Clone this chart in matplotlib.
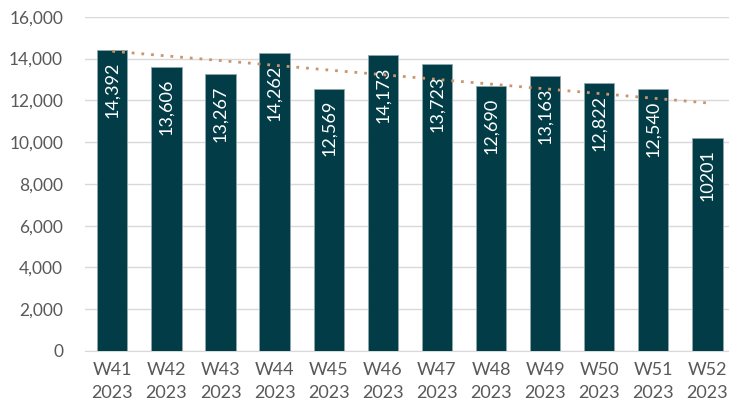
import numpy as np
import matplotlib.pyplot as plt

# weekly values
weeks = ["W41", "W42", "W43", "W44", "W45", "W46", "W47", "W48", "W49", "W50", "W51", "W52"]
years = ["2023"] * 12
values = [14392, 13606, 13267, 14262, 12569, 14173, 13723, 12690, 13163, 12822, 12540, 10201]
value_labels = ["14,392", "13,606", "13,267", "14,262", "12,569", "14,173",
                "13,723", "12,690", "13,163", "12,822", "12,540", "10201"]

BAR_COLOR = "#023D47"
TREND_COLOR = "#C9966E"
TEXT_COLOR = "#595959"

plt.rcParams['font.family'] = ['Lato', 'DejaVu Sans']

fig = plt.figure(figsize=(7.29, 4.11), dpi=100)
ax = fig.add_axes([0.117, 0.146, 0.883, 0.813])

x = np.arange(len(values))
bars = ax.bar(x, values, width=0.56, color=BAR_COLOR, edgecolor="#8FA9AE", linewidth=0.6, zorder=3)

# linear trendline (like Excel)
coef = np.polyfit(x, values, 1)
ax.plot(x, np.polyval(coef, x), linestyle=(0, (1, 2.5)), color=TREND_COLOR,
        linewidth=2.0, zorder=4)

for b, lab in zip(bars, value_labels):
    ax.text(b.get_x() + b.get_width() / 2, b.get_height() - 550, lab,
            rotation=90, ha="center", va="top", color="white", fontsize=13, zorder=5)

ax.set_ylim(0, 16000)
ax.set_xlim(-0.5, 11.4)
ax.set_yticks(range(0, 16001, 2000))
ax.set_yticklabels([f"{v:,}" for v in range(0, 16001, 2000)])
ax.set_xticks(x)
ax.set_xticklabels([f"{w}\n{y}" for w, y in zip(weeks, years)], linespacing=1.5)

ax.grid(axis="y", color="#D9D9D9", linewidth=1.0, zorder=0)
ax.set_axisbelow(True)
for s in ["top", "right", "left"]:
    ax.spines[s].set_visible(False)
ax.spines["bottom"].set_color("#D9D9D9")
ax.tick_params(axis="both", length=0, colors=TEXT_COLOR)
ax.tick_params(axis="y", labelsize=12.5, pad=16)
ax.tick_params(axis="x", labelsize=13, pad=8)

fig.savefig("out.png", dpi=100)
